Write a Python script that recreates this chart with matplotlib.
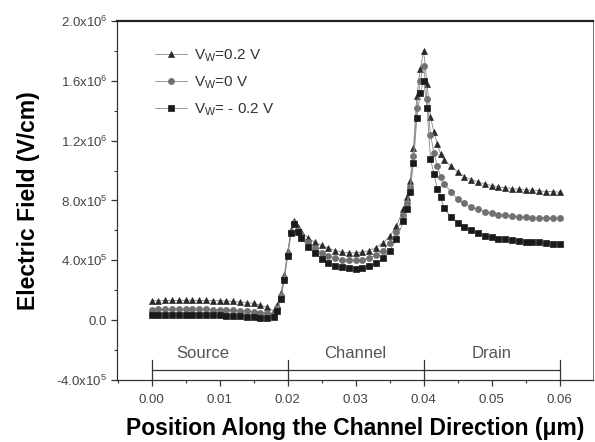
import numpy as np
import matplotlib
matplotlib.use("Agg")
import matplotlib.pyplot as plt
from matplotlib.ticker import MultipleLocator

plt.rcParams['font.family'] = ['Liberation Sans', 'DejaVu Sans']
plt.rcParams['mathtext.default'] = 'regular'

# position along the channel (um)
pos = [0.000, 0.001, 0.002, 0.003, 0.004, 0.005, 0.006, 0.007, 0.008, 0.009,
       0.010, 0.011, 0.012, 0.013, 0.014, 0.015, 0.016, 0.017, 0.018,
       0.0185, 0.019, 0.0195, 0.020, 0.0205, 0.021, 0.0215,
       0.022, 0.023, 0.024, 0.025, 0.026, 0.027, 0.028, 0.029, 0.030,
       0.031, 0.032, 0.033, 0.034, 0.035, 0.036, 0.037,
       0.0375, 0.038, 0.0385, 0.039, 0.0395, 0.040, 0.0405, 0.041, 0.0415,
       0.042, 0.0425, 0.043, 0.044, 0.045, 0.046, 0.047, 0.048, 0.049,
       0.050, 0.051, 0.052, 0.053, 0.054, 0.055, 0.056, 0.057, 0.058,
       0.059, 0.060]

# electric field in units of 1e5 V/cm
field_p02 = [1.30, 1.30, 1.32, 1.32, 1.32, 1.33, 1.33, 1.32, 1.32, 1.30,
             1.30, 1.28, 1.25, 1.22, 1.18, 1.12, 1.00, 0.85, 0.60,
             1.00, 1.80, 3.00, 4.60, 6.00, 6.60, 6.20,
             5.90, 5.50, 5.20, 5.00, 4.80, 4.65, 4.55, 4.50, 4.50,
             4.55, 4.65, 4.85, 5.15, 5.60, 6.30, 7.40,
             8.20, 9.30, 11.50, 15.00, 16.80, 18.00, 15.80, 13.60, 12.60,
             11.80, 11.10, 10.70, 10.30, 9.90, 9.60, 9.40, 9.25, 9.10,
             9.00, 8.90, 8.85, 8.80, 8.75, 8.70, 8.70, 8.65, 8.60,
             8.60, 8.55]
field_0 = [0.70, 0.72, 0.72, 0.73, 0.73, 0.73, 0.73, 0.72, 0.72, 0.71,
           0.70, 0.68, 0.66, 0.64, 0.60, 0.55, 0.50, 0.45, 0.40,
           0.80, 1.60, 2.80, 4.40, 5.90, 6.50, 6.00,
           5.70, 5.20, 4.80, 4.50, 4.30, 4.15, 4.05, 4.00, 4.00,
           4.05, 4.15, 4.35, 4.65, 5.15, 5.90, 7.00,
           7.80, 8.90, 11.00, 14.20, 16.00, 17.00, 14.80, 12.40, 11.20,
           10.30, 9.60, 9.10, 8.60, 8.10, 7.80, 7.55, 7.40, 7.25,
           7.15, 7.05, 7.00, 6.95, 6.90, 6.90, 6.85, 6.85, 6.80,
           6.80, 6.80]
field_m02 = [0.32, 0.33, 0.34, 0.34, 0.34, 0.35, 0.35, 0.34, 0.34, 0.33,
             0.32, 0.30, 0.28, 0.25, 0.22, 0.18, 0.15, 0.15, 0.20,
             0.60, 1.40, 2.70, 4.30, 5.80, 6.40, 5.90,
             5.50, 4.90, 4.50, 4.10, 3.85, 3.65, 3.55, 3.50, 3.45,
             3.50, 3.60, 3.80, 4.15, 4.65, 5.40, 6.60,
             7.40, 8.60, 10.50, 13.50, 15.20, 16.00, 14.20, 10.80, 9.80,
             8.80, 8.20, 7.50, 6.90, 6.50, 6.20, 6.00, 5.80, 5.65,
             5.55, 5.45, 5.40, 5.35, 5.30, 5.25, 5.20, 5.20, 5.15,
             5.10, 5.10]

series = [("V$_W$=0.2 V", field_p02, '^', '#2a2a2a'),
          ("V$_W$=0 V", field_0, 'o', '#707070'),
          ("V$_W$= - 0.2 V", field_m02, 's', '#1a1a1a')]

# device regions along the channel
region_names = ["Source", "Channel", "Drain"]
region_edges = [0.00, 0.02, 0.04, 0.06]
region_label_x = [0.0075, 0.030, 0.050]

fig = plt.figure(figsize=(5.95, 4.42), dpi=100)
ax = fig.add_axes([0.1966, 0.1403, 0.80, 0.8122])

x = np.array(pos)
for label, vals, mk, col in series:
    ax.plot(x, np.array(vals) * 1e5, color='#888888', lw=0.6,
            marker=mk, ms=4.4, mfc=col, mec=col, mew=0.5, label=label)

# region brackets near the bottom axis
ax.plot([region_edges[0], region_edges[-1]], [-3.3e5, -3.3e5], color='#333333', lw=0.9)
for e in region_edges:
    ax.plot([e, e], [-4.0e5, -2.65e5], color='#333333', lw=0.9)
for name, xc in zip(region_names, region_label_x):
    ax.text(xc, -2.2e5, name, ha='center', va='center', fontsize=12, color='#555555')

ax.set_xlim(-0.0051, 0.0649)
ax.set_ylim(-4.0e5, 2.0e6)

xt = [0.00, 0.01, 0.02, 0.03, 0.04, 0.05, 0.06]
ax.set_xticks(xt)
ax.set_xticklabels(["%.2f" % v for v in xt])
ax.xaxis.set_minor_locator(MultipleLocator(0.005))

yt = [-4.0e5, 0.0, 4.0e5, 8.0e5, 1.2e6, 1.6e6, 2.0e6]
ytl = ["-4.0x10$^5$", "0.0", "4.0x10$^5$", "8.0x10$^5$",
       "1.2x10$^6$", "1.6x10$^6$", "2.0x10$^6$"]
ax.set_yticks(yt)
ax.set_yticklabels(ytl)
ax.yaxis.set_minor_locator(MultipleLocator(2.0e5))

ax.tick_params(which='major', direction='out', length=4, width=0.9,
               color='#333333', labelsize=9.5, labelcolor='#444444', pad=3)
ax.tick_params(axis='x', which='major', pad=6)
ax.tick_params(which='minor', direction='out', length=2.5, width=0.8, color='#333333')

for side in ['left', 'bottom', 'right']:
    ax.spines[side].set_color('#333333')
    ax.spines[side].set_linewidth(0.9)
ax.spines['top'].set_color('#222222')
ax.spines['top'].set_linewidth(1.6)
ax.spines['right'].set_linewidth(0.5)

ax.set_xlabel("Position Along the Channel Direction (\u03bcm)", fontsize=16.5,
              fontweight='bold', labelpad=8)
ax.set_ylabel("Electric Field (V/cm)", fontsize=16.5, fontweight='bold', labelpad=12)

ax.legend(loc='upper left', bbox_to_anchor=(0.05, 0.965), frameon=False,
          fontsize=11, handlelength=2.1, labelspacing=0.7, handletextpad=0.5,
          labelcolor='#333333')

fig.savefig("out.png", dpi=100)
